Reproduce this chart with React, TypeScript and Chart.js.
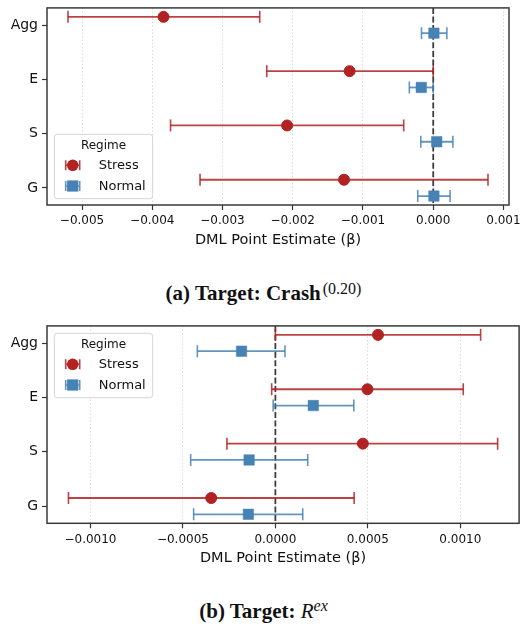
import React, { useEffect, useRef } from "react";
import { Chart, registerables } from "chart.js";

Chart.register(...registerables);

// ---------- data ----------
const CATEGORIES = ["Agg", "E", "S", "G"];
const SERIES = ["Stress", "Normal"];

// Panel (a) Target: Crash^(0.20)
const A_STRESS_EST = [-0.00384, -0.00119, -0.00208, -0.00127];
const A_STRESS_LO = [-0.0052, -0.00237, -0.00374, -0.00332];
const A_STRESS_HI = [-0.00247, 0.0, -0.00042, 0.00078];
const A_NORMAL_EST = [0.00001, -0.00017, 0.00005, 0.00001];
const A_NORMAL_LO = [-0.000167, -0.00034, -0.000177, -0.00022];
const A_NORMAL_HI = [0.000194, 0.0, 0.00028, 0.00024];
const A_TICKS = [-0.005, -0.004, -0.003, -0.002, -0.001, 0, 0.001];

// Panel (b) Target: R^ex
const B_STRESS_EST = [0.000555, 0.000498, 0.000473, -0.000347];
const B_STRESS_LO = [0.0, -0.00002, -0.000262, -0.001119];
const B_STRESS_HI = [0.00111, 0.001016, 0.001202, 0.000426];
const B_NORMAL_EST = [-0.000183, 0.000205, -0.000142, -0.000146];
const B_NORMAL_LO = [-0.000422, -0.000012, -0.000458, -0.000442];
const B_NORMAL_HI = [0.000052, 0.000424, 0.000175, 0.000148];
const B_TICKS = [-0.001, -0.0005, 0, 0.0005, 0.001];

const REF_VALUE = 0;
const X_TITLE = "DML Point Estimate (β)";
const LEGEND_TITLE = "Regime";

// ---------- styles ----------
const FONT = "'DejaVu Sans', sans-serif";
const RED = "#b22222";
const BLUE = "#4682b4";
const RED_BAR = "rgba(178,34,34,0.85)";
const BLUE_BAR = "rgba(70,130,180,0.85)";
const OFFSET = 0.15;

const fmt = (v: number, d: number) => {
  if (Math.abs(v) < 1e-12) return (0).toFixed(d);
  return (v < 0 ? "\u2212" : "") + Math.abs(v).toFixed(d);
};

const framePlugin = {
  id: "frameAndRef",
  beforeDatasetsDraw(chart: any) {
    const { ctx, chartArea, scales } = chart;
    ctx.save();
    const x0 = scales.x.getPixelForValue(REF_VALUE);
    ctx.strokeStyle = "rgba(0,0,0,0.75)";
    ctx.lineWidth = 1.8;
    ctx.setLineDash([6, 2.6]);
    ctx.beginPath();
    ctx.moveTo(x0, chartArea.top);
    ctx.lineTo(x0, chartArea.bottom);
    ctx.stroke();
    ctx.setLineDash([]);
    ctx.strokeStyle = "#3a3a3a";
    ctx.lineWidth = 1.5;
    ctx.strokeRect(
      chartArea.left,
      chartArea.top,
      chartArea.right - chartArea.left,
      chartArea.bottom - chartArea.top
    );
    ctx.restore();
  },
};

const legendPlugin = {
  id: "regimeLegend",
  afterDatasetsDraw(chart: any, _args: any, opts: any) {
    const { ctx, chartArea } = chart;
    const W = 98.4;
    const H = 64.4;
    const left = chartArea.left + 7.3;
    const top =
      opts.loc === "upper left" ? chartArea.top + 7.4 : chartArea.bottom - 6.3 - H;
    ctx.save();
    const r = 3;
    ctx.beginPath();
    ctx.moveTo(left + r, top);
    ctx.lineTo(left + W - r, top);
    ctx.arcTo(left + W, top, left + W, top + r, r);
    ctx.lineTo(left + W, top + H - r);
    ctx.arcTo(left + W, top + H, left + W - r, top + H, r);
    ctx.lineTo(left + r, top + H);
    ctx.arcTo(left, top + H, left, top + H - r, r);
    ctx.lineTo(left, top + r);
    ctx.arcTo(left, top, left + r, top, r);
    ctx.closePath();
    ctx.fillStyle = "rgba(255,255,255,0.85)";
    ctx.fill();
    ctx.strokeStyle = "#d4d4d4";
    ctx.lineWidth = 1;
    ctx.stroke();

    ctx.fillStyle = "#111";
    ctx.font = `12px ${FONT}`;
    ctx.textAlign = "center";
    ctx.textBaseline = "middle";
    ctx.fillText(LEGEND_TITLE, left + W / 2, top + 11.5);

    SERIES.forEach((label, k) => {
      const y = top + 31 + k * 20.7;
      const mx = left + 18.4;
      const barColor = k === 0 ? RED_BAR : BLUE_BAR;
      const color = k === 0 ? RED : BLUE;
      ctx.strokeStyle = barColor;
      ctx.lineWidth = 1.6;
      ctx.beginPath();
      ctx.moveTo(mx - 7, y);
      ctx.lineTo(mx + 7, y);
      ctx.moveTo(mx - 7, y - 5);
      ctx.lineTo(mx - 7, y + 5);
      ctx.moveTo(mx + 7, y - 5);
      ctx.lineTo(mx + 7, y + 5);
      ctx.stroke();
      ctx.fillStyle = color;
      if (k === 0) {
        ctx.beginPath();
        ctx.arc(mx, y, 5.8, 0, Math.PI * 2);
        ctx.fill();
      } else {
        ctx.fillRect(mx - 5.6, y - 5.6, 11.2, 11.2);
      }
      ctx.fillStyle = "#111";
      ctx.font = `13px ${FONT}`;
      ctx.textAlign = "left";
      ctx.fillText(label, left + 44.4, y + 0.5);
    });
    ctx.restore();
  },
};

type PanelProps = {
  stressEst: number[];
  stressLo: number[];
  stressHi: number[];
  normalEst: number[];
  normalLo: number[];
  normalHi: number[];
  ticks: number[];
  decimals: number;
  legendLoc: string;
  plotTop: number;
  plotBottom: number;
  rightPad: number;
  top: number;
};

const CANVAS_W = 527;
const CANVAS_H = 260;

function ForestPanel(p: PanelProps) {
  const ref = useRef<HTMLCanvasElement | null>(null);

  useEffect(() => {
    if (!ref.current) return;
    const allLo = [...p.stressLo, ...p.normalLo];
    const allHi = [...p.stressHi, ...p.normalHi];
    const lo = Math.min(...allLo);
    const hi = Math.max(...allHi);
    const pad = (hi - lo) * 0.05;
    const yLo = -OFFSET;
    const yHi = CATEGORIES.length - 1 + OFFSET;
    const yPad = (yHi - yLo) * 0.05;

    const barSets: any[] = [];
    CATEGORIES.forEach((_, i) => {
      barSets.push({
        label: SERIES[0] + " CI " + i,
        data: [
          { x: p.stressLo[i], y: i - OFFSET },
          { x: p.stressHi[i], y: i - OFFSET },
        ],
        showLine: true,
        borderColor: RED_BAR,
        borderWidth: 1.8,
        pointStyle: "line",
        pointRotation: 90,
        pointRadius: 6,
        pointBorderColor: RED_BAR,
        pointBorderWidth: 1.6,
        order: 2,
      });
      barSets.push({
        label: SERIES[1] + " CI " + i,
        data: [
          { x: p.normalLo[i], y: i + OFFSET },
          { x: p.normalHi[i], y: i + OFFSET },
        ],
        showLine: true,
        borderColor: BLUE_BAR,
        borderWidth: 1.8,
        pointStyle: "line",
        pointRotation: 90,
        pointRadius: 6,
        pointBorderColor: BLUE_BAR,
        pointBorderWidth: 1.6,
        order: 2,
      });
    });

    const chart = new Chart(ref.current, {
      type: "scatter",
      data: {
        datasets: [
          {
            label: SERIES[0],
            data: p.stressEst.map((v, i) => ({ x: v, y: i - OFFSET })),
            pointStyle: "circle",
            pointRadius: 5.5,
            backgroundColor: RED,
            borderColor: RED,
            borderWidth: 1,
            order: 0,
          },
          {
            label: SERIES[1],
            data: p.normalEst.map((v, i) => ({ x: v, y: i + OFFSET })),
            pointStyle: "rect",
            pointRadius: 7.4,
            backgroundColor: BLUE,
            borderColor: BLUE,
            borderWidth: 0.5,
            order: 1,
          },
          ...barSets,
        ],
      },
      options: {
        responsive: false,
        animation: false,
        events: [],
        layout: { padding: { top: p.plotTop, right: p.rightPad, left: 0, bottom: 0 } },
        plugins: {
          legend: { display: false },
          tooltip: { enabled: false },
          regimeLegend: { loc: p.legendLoc },
        } as any,
        scales: {
          x: {
            type: "linear",
            min: lo - pad,
            max: hi + pad,
            afterBuildTicks: (s: any) => {
              s.ticks = p.ticks.map((v) => ({ value: v }));
            },
            afterFit: (s: any) => {
              s.height = CANVAS_H - p.plotBottom;
              s.paddingLeft = 0;
              s.paddingRight = 0;
            },
            ticks: {
              callback: (v: any) => fmt(Number(v), p.decimals),
              font: { family: FONT, size: 12 },
              color: "#111",
              padding: 4,
              maxRotation: 0,
              autoSkip: false,
            },
            grid: {
              color: "#d6d6d6",
              lineWidth: 0.9,
              tickColor: "#333",
              tickLength: 5,
              tickWidth: 1.2,
            },
            border: { display: false, dash: [1.5, 2] },
            title: {
              display: true,
              text: X_TITLE,
              font: { family: FONT, size: 14.5 },
              color: "#111",
              padding: { top: 0, bottom: 11 },
            },
          },
          y: {
            type: "linear",
            reverse: true,
            min: yLo - yPad,
            max: yHi + yPad,
            afterBuildTicks: (s: any) => {
              s.ticks = CATEGORIES.map((_, i) => ({ value: i }));
            },
            afterFit: (s: any) => {
              s.width = 47;
              s.paddingTop = 0;
              s.paddingBottom = 0;
            },
            ticks: {
              callback: (v: any) => CATEGORIES[Math.round(Number(v))],
              font: { family: FONT, size: 14 },
              color: "#111",
              padding: 4,
              autoSkip: false,
            },
            grid: {
              drawOnChartArea: false,
              tickColor: "#333",
              tickLength: 5,
              tickWidth: 1.2,
            },
            border: { display: false },
          },
        },
      } as any,
      plugins: [framePlugin, legendPlugin],
    });
    return () => chart.destroy();
  }, []);

  return (
    <canvas
      ref={ref}
      width={CANVAS_W}
      height={CANVAS_H}
      style={{ position: "absolute", left: 0, top: p.top, width: CANVAS_W, height: CANVAS_H }}
    />
  );
}

const captionStyle: React.CSSProperties = {
  position: "absolute",
  left: 0,
  width: CANVAS_W,
  textAlign: "center",
  fontFamily: "'Liberation Serif', 'Times New Roman', serif",
  fontWeight: 700,
  fontSize: 21,
  lineHeight: "24px",
  color: "#111",
  whiteSpace: "nowrap",
};

export default function App() {
  return (
    <div
      style={{
        position: "absolute",
        left: 0,
        top: 0,
        width: CANVAS_W,
        height: 626,
        background: "#fff",
        overflow: "hidden",
      }}
    >
      <ForestPanel
        stressEst={A_STRESS_EST}
        stressLo={A_STRESS_LO}
        stressHi={A_STRESS_HI}
        normalEst={A_NORMAL_EST}
        normalLo={A_NORMAL_LO}
        normalHi={A_NORMAL_HI}
        ticks={A_TICKS}
        decimals={3}
        legendLoc="lower left"
        plotTop={7}
        plotBottom={205}
        rightPad={18}
        top={0}
      />
      <div style={{ ...captionStyle, top: 281 }}>
        (a) Target: Crash
        <span
          style={{
            fontWeight: 400,
            fontSize: 16,
            position: "relative",
            top: -6,
            marginLeft: 2,
          }}
        >
          (0.20)
        </span>
      </div>
      <ForestPanel
        stressEst={B_STRESS_EST}
        stressLo={B_STRESS_LO}
        stressHi={B_STRESS_HI}
        normalEst={B_NORMAL_EST}
        normalLo={B_NORMAL_LO}
        normalHi={B_NORMAL_HI}
        ticks={B_TICKS}
        decimals={4}
        legendLoc="upper left"
        plotTop={7.3}
        plotBottom={205.3}
        rightPad={6}
        top={318}
      />
      <div style={{ ...captionStyle, top: 598.5 }}>
        (b) Target: <span style={{ fontStyle: "italic", fontWeight: 400 }}>R</span>
        <span
          style={{
            fontStyle: "italic",
            fontWeight: 400,
            fontSize: 16,
            position: "relative",
            top: -7,
          }}
        >
          ex
        </span>
      </div>
    </div>
  );
}
